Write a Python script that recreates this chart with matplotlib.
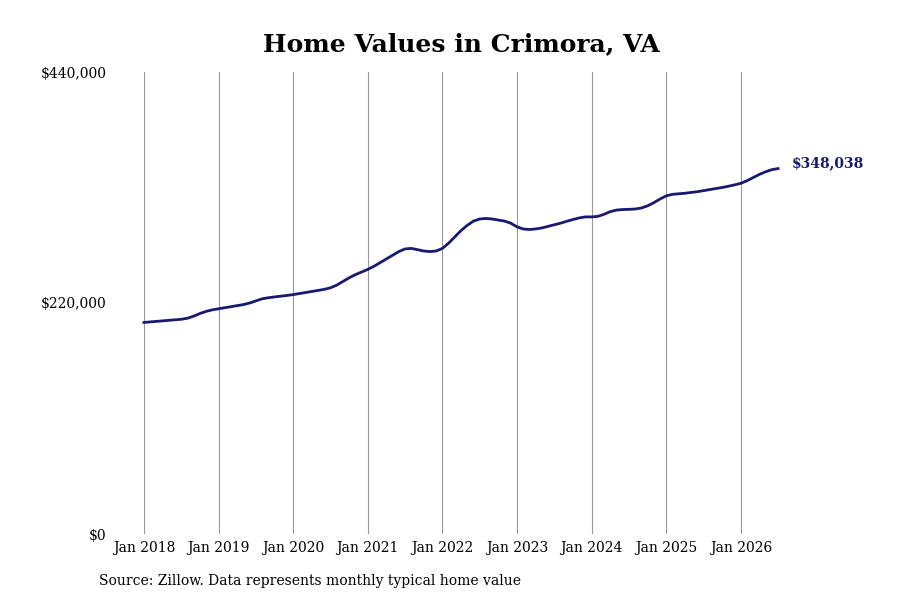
import numpy as np
import matplotlib
matplotlib.use("Agg")
from matplotlib import pyplot as plt

plt.rcParams['font.family'] = ['DejaVu Serif']

# monthly typical home value, Jan 2018 .. Jul 2026 (thousands of $)
values_2018 = [201.5, 202, 202.5, 203, 203.5, 204, 204.5, 205.5, 207.5, 210, 212, 213.5]
values_2019 = [214.5, 215.5, 216.5, 217.5, 218.5, 220, 222, 224, 225, 225.8, 226.5, 227.2]
values_2020 = [228, 229, 230, 231, 232, 233, 234.5, 237, 240.5, 244, 247, 249.5]
values_2021 = [252, 255, 258.5, 262, 265.5, 269, 271.5, 272, 270.8, 269.5, 269, 269.5]
values_2022 = [272, 277, 283, 289, 294, 298, 300, 300.5, 300, 299, 298, 296]
values_2023 = [292.5, 290.5, 290, 290.5, 291.5, 293, 294.5, 296, 297.8, 299.5, 301, 302]
values_2024 = [302, 302.5, 304.5, 307, 308.5, 309, 309.2, 309.5, 310.5, 312.5, 315.5, 319]
values_2025 = [322, 323.5, 324, 324.5, 325.3, 326, 327, 328, 329, 330, 331.2, 332.5]
values_2026 = [334, 336.5, 339.5, 342.5, 345, 347, 348.038]

values = np.array(values_2018 + values_2019 + values_2020 + values_2021 + values_2022
                  + values_2023 + values_2024 + values_2025 + values_2026) * 1000
months = 2018 + np.arange(len(values)) / 12

years = list(range(2018, 2027))
year_labels = [f"Jan {y}" for y in years]
y_ticks = [0, 220000, 440000]
y_labels = ["$0", "$220,000", "$440,000"]
last_label = "$348,038"

navy = "#191970"

fig = plt.figure(figsize=(9, 6), dpi=100)
ax = fig.add_axes([144 / 900, 66 / 600, 716 / 900, 462 / 600])

ax.plot(months, values, color=navy, lw=2.0, clip_on=False, zorder=3)
ax.annotate(last_label, (months[-1], values[-1]), xytext=(10, 4), textcoords="offset points",
            ha="left", va="center", color=navy, fontsize=10, fontweight="bold")

ax.set_xlim(2018, 2018 + 716 / 74.6)
ax.set_ylim(0, 440000)
ax.set_xticks(years)
ax.set_xticklabels(year_labels, fontsize=10)
ax.set_yticks(y_ticks)
ax.set_yticklabels(y_labels, fontsize=10)
ax.tick_params(axis="y", length=0, pad=27)
ax.tick_params(axis="x", length=0, pad=5)
ax.grid(axis="x", color="#999999", lw=0.8)
ax.set_axisbelow(True)
for s in ax.spines.values():
    s.set_visible(False)

fig.text(461 / 900, 1 - 44 / 600, "Home Values in Crimora, VA", ha="center", va="center",
         fontsize=18, fontweight="bold")
fig.text(99 / 900, 1 - 581 / 600, "Source: Zillow. Data represents monthly typical home value",
         ha="left", va="center", fontsize=10)

fig.savefig("out.png", dpi=100)
